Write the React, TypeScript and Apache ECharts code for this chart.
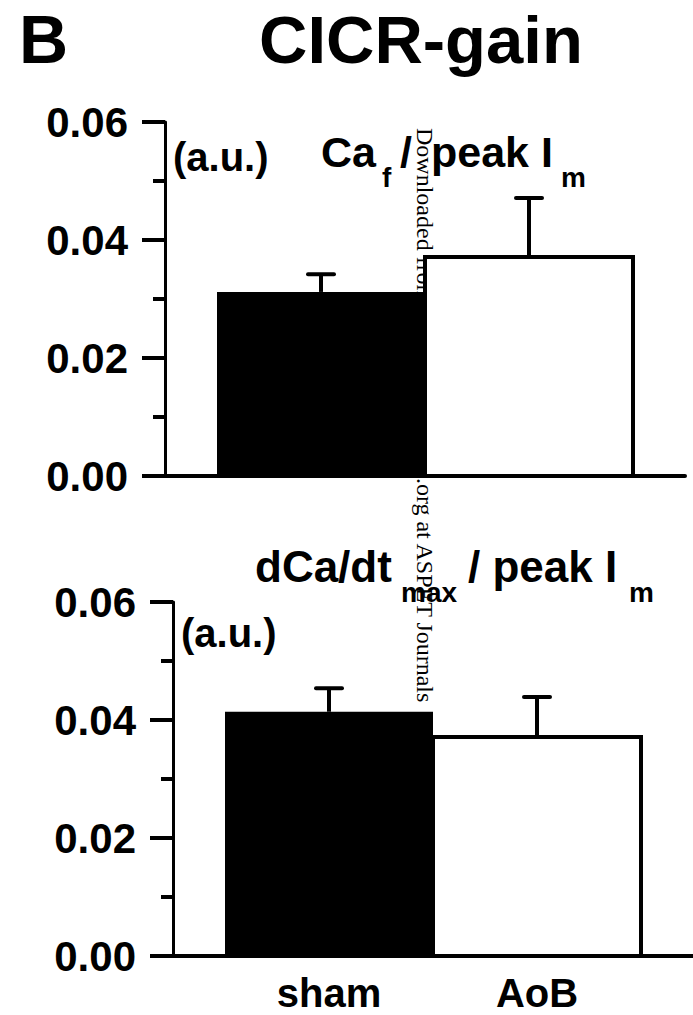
import React, { useEffect, useRef } from "react";
import * as echarts from "echarts";

// ---- data ----
const groups = ["sham", "AoB"];
const groupX = [1, 2];
const cafMean = [0.0312, 0.0371];
const cafSem = [0.003, 0.01];
const dcaMean = [0.0414, 0.0371];
const dcaSem = [0.004, 0.0068];
const yMin = 0;
const yMax = 0.06;
const yStep = 0.02;

const FONT = "'Liberation Sans', Arial, Helvetica, sans-serif";
const SERIF = "'Liberation Serif', 'Times New Roman', serif";

function mkSeries(mean: number[], sem: number[], idx: number) {
  return {
    type: "custom",
    xAxisIndex: idx,
    yAxisIndex: idx,
    z: 2,
    data: groupX.map((x, i) => [x, mean[i], sem[i]]),
    renderItem: (params: any, api: any) => {
      const x = api.value(0);
      const v = api.value(1);
      const e = api.value(2);
      const i = params.dataIndex;
      const p0 = api.coord([x - 0.5, v]);
      const p1 = api.coord([x + 0.5, 0]);
      const top = api.coord([x, v + e]);
      const filled = i === 0;
      return {
        type: "group",
        children: [
          {
            type: "rect",
            shape: { x: p0[0], y: p0[1], width: p1[0] - p0[0], height: p1[1] - p0[1] },
            style: { fill: filled ? "#000" : "#fff", stroke: "#000", lineWidth: filled ? 0 : 4 },
          },
          {
            type: "line",
            shape: { x1: top[0], y1: p0[1], x2: top[0], y2: top[1] },
            style: { stroke: "#000", lineWidth: 4 },
          },
          {
            type: "line",
            shape: { x1: top[0] - 13, y1: top[1], x2: top[0] + 13, y2: top[1] },
            style: { stroke: "#000", lineWidth: 4, lineCap: "round" },
          },
        ],
      };
    },
  };
}

function yAxisCfg(idx: number) {
  return {
    gridIndex: idx,
    type: "value",
    min: yMin,
    max: yMax,
    interval: yStep,
    axisLine: { show: true, lineStyle: { color: "#000", width: 3 } },
    axisTick: { show: true, length: 23, lineStyle: { color: "#000", width: 4 } },
    minorTick: { show: true, splitNumber: 2, length: 12, lineStyle: { color: "#000", width: 4 } },
    splitLine: { show: false },
    minorSplitLine: { show: false },
    axisLabel: {
      formatter: (v: number) => v.toFixed(2),
      fontSize: 42,
      fontWeight: "bold",
      fontFamily: FONT,
      color: "#000",
      margin: 37,
      padding: [0, 0, 9, 0],
    },
  };
}

function xAxisCfg(idx: number, showLabels: boolean) {
  return {
    gridIndex: idx,
    type: "value",
    min: 0.25,
    max: 2.75,
    axisLine: { show: true, onZero: false, lineStyle: { color: "#000", width: 4 } },
    axisTick: { show: false },
    splitLine: { show: false },
    axisLabel: {
      show: showLabels,
      customValues: groupX,
      formatter: (v: number) => groups[Math.round(v) - 1] ?? "",
      fontSize: 40,
      lineHeight: 40,
      fontWeight: "bold",
      fontFamily: FONT,
      color: "#000",
      margin: 17,
    },
  };
}

function txt(text: string, x: number, baseline: number, size: number, extra: any = {}) {
  return {
    type: "text",
    x,
    y: baseline - 0.3465 * size,
    z: 5,
    style: {
      text,
      font: `bold ${size}px ${FONT}`,
      fill: "#000",
      align: "left",
      verticalAlign: "middle",
      ...extra,
    },
  };
}

export default function App() {
  const ref = useRef<HTMLDivElement>(null);
  useEffect(() => {
    if (!ref.current) return;
    const chart = echarts.init(ref.current, null, { renderer: "svg" });
    chart.setOption({
      animation: false,
      backgroundColor: "#fff",
      grid: [
        { left: 165, top: 122, width: 520, height: 354 },
        { left: 173, top: 602, width: 520, height: 354 },
      ],
      xAxis: [xAxisCfg(0, false), xAxisCfg(1, true)],
      yAxis: [yAxisCfg(0), yAxisCfg(1)],
      series: [mkSeries(cafMean, cafSem, 0), mkSeries(dcaMean, dcaSem, 1)],
      graphic: [
        // watermark (under the bars)
        {
          type: "text",
          x: 425,
          y: 128,
          z: 0,
          rotation: -Math.PI / 2,
          style: {
            text: "Downloaded from jpet.aspetjournals.org at ASPET Journals",
            font: `24px ${SERIF}`,
            fill: "#000",
            align: "left",
            verticalAlign: "middle",
          },
        },
        txt("B", 19, 63, 68),
        txt("CICR-gain", 259, 63, 67),
        // top panel
        txt("(a.u.)", 173, 171, 40),
        txt("Ca", 321, 167, 43),
        txt("f", 382, 187, 28),
        txt("/", 400, 167, 43),
        txt("peak I", 431, 167, 43),
        txt("m", 561, 187, 28),
        // bottom panel
        txt("(a.u.)", 181, 647, 40),
        txt("dCa/dt", 255, 582, 44),
        txt("max", 401, 602, 28),
        txt("/ peak I", 468, 582, 44),
        txt("m", 629, 602, 28),
      ],
    });
    return () => chart.dispose();
  }, []);
  return (
    <div
      ref={ref}
      style={{ position: "absolute", left: 0, top: 0, width: 693, height: 1015, background: "#fff" }}
    />
  );
}
